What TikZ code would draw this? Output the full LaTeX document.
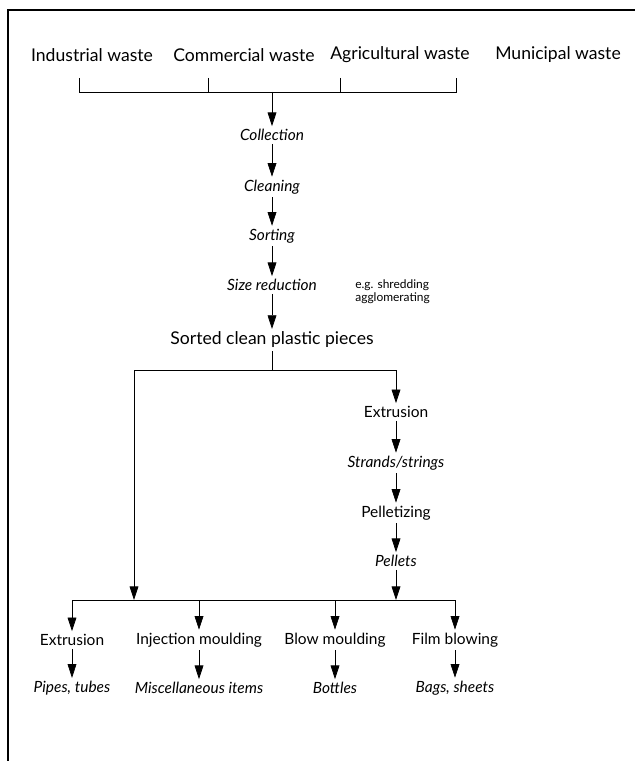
\documentclass[tikz,border=0pt]{standalone}
\usepackage{fontspec}
\setmainfont{Lato}
\usetikzlibrary{arrows.meta}
\usetikzlibrary{calc}

\tikzset{
	flow/.style={-{Triangle[length=3.4mm,width=2.2mm]}},
	source/.style={font=\fontsize{12.5}{14}\selectfont, inner sep=2pt},
	stage/.style={font=\fontsize{11}{13}\selectfont\itshape, inner sep=2pt},
	process/.style={font=\fontsize{11}{13}\selectfont, inner sep=2pt},
	note/.style={font=\fontsize{8.5}{9.5}\selectfont, align=left, inner sep=0pt}
}

\begin{document}
\begin{tikzpicture}[x=0.025cm,y=-0.025cm,line width=0.5pt]
	\useasboundingbox (0,0) rectangle (635,761);
	% frame
	\draw[line width=1pt] (635,10) -- (8,10) -- (8,761);
	% sources
	\node[source] (ind) at (92,55) {Industrial waste};
	\node[source] (com) at (244,55) {Commercial waste};
	\node[source] (agr) at (400,55) {Agricultural waste};
	\node[source] (mun) at (558,55) {Municipal waste};
	\coordinate (t1) at (79,78);
	\coordinate (t2) at (208,78);
	\coordinate (t3) at (340,78);
	\coordinate (t4) at (456,78);
	\coordinate (join) at (272,92);
	\draw (t1) -- (t1 |- join) -- (t4 |- join) -- (t4);
	\draw (t2) -- (t2 |- join);
	\draw (t3) -- (t3 |- join);
	% main line
	\node[stage] (coll) at (272,135) {Collection};
	\node[stage] (clean) at (272,187) {Cleaning};
	\node[stage] (sort) at (272,236) {Sorting};
	\node[stage] (size) at (272,285) {Size reduction};
	\node[source] (pieces) at (272,340) {Sorted clean plastic pieces};
	\node[note, anchor=west] (eg) at (355,292) {e.g. shredding\\agglomerating};
	\draw[flow] (join) -- (coll);
	\draw[flow] (coll) -- (clean);
	\draw[flow] (clean) -- (sort);
	\draw[flow] (sort) -- (size);
	\draw[flow] (size) -- (pieces);
	% split
	\coordinate (split) at (272,370);
	\coordinate (lbr) at (134,370);
	\coordinate (rbr) at (396,370);
	\draw (pieces) -- (split);
	\draw (lbr) -- (rbr);
	% pellet route
	\node[process] (ext1) at (396,412) {Extrusion};
	\node[stage] (strand) at (396,463) {Strands/strings};
	\node[process] (pelz) at (396,513) {Pelletizing};
	\node[stage] (pel) at (396,561) {Pellets};
	\draw[flow] (rbr) -- (ext1);
	\draw[flow] (ext1) -- (strand);
	\draw[flow] (strand) -- (pelz);
	\draw[flow] (pelz) -- (pel);
	% bus
	\coordinate (busL) at (72,600);
	\coordinate (busR) at (455,600);
	\draw (busL) -- (busR);
	\draw[flow] (lbr) -- (lbr |- busL);
	\draw[flow] (pel) -- (pel |- busL);
	% end products
	\foreach \x/\nm/\proc/\prod in {72/ext/Extrusion/{Pipes, tubes},
		199/inj/Injection moulding/Miscellaneous items,
		335/blow/Blow moulding/Bottles,
		455/film/Film blowing/{Bags, sheets}}
	{
		\node[process] (\nm) at (\x,640) {\proc};
		\node[stage] (\nm p) at (\x,688) {\prod};
		\draw[flow] (\x,600) -- (\nm);
		\draw[flow] (\nm) -- (\nm p);
	}
\end{tikzpicture}
\end{document}
